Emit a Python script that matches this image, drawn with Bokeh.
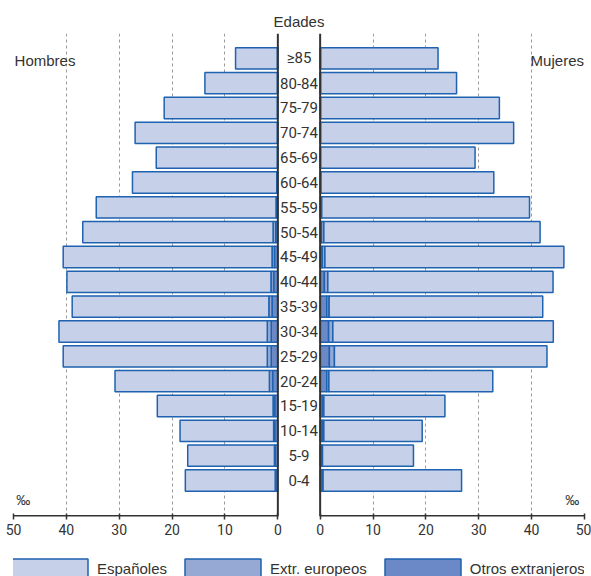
import numpy as np
from bokeh.plotting import figure
from bokeh.layouts import column
from bokeh.models import Range1d, FixedTicker, Span, Legend, LegendItem
from bokeh.embed import file_html
from bokeh.resources import INLINE
from bokeh.core.properties import value

# ---- data (per mil), bottom (0-4) to top (>=85) ----
edades = ["0-4", "5-9", "10-14", "15-19", "20-24", "25-29", "30-34", "35-39",
          "40-44", "45-49", "50-54", "55-59", "60-64", "65-69", "70-74",
          "75-79", "80-84", "\u226585"]

hombres_espanoles = [17.0, 16.4, 17.7, 21.9, 29.2, 38.6, 39.4, 37.2, 38.6,
                     39.5, 36.0, 34.0, 27.3, 22.9, 26.9, 21.4, 13.7, 7.9]
hombres_europeos = [0.1, 0.15, 0.2, 0.3, 0.6, 0.75, 0.75, 0.6, 0.5,
                    0.45, 0.5, 0.2, 0.1, 0.05, 0.05, 0.05, 0.05, 0.05]
hombres_otros = [0.4, 0.5, 0.6, 0.6, 1.0, 1.25, 1.25, 1.1, 0.8,
                 0.65, 0.4, 0.15, 0.1, 0.05, 0.05, 0.05, 0.05, 0.05]

mujeres_espanoles = [26.2, 17.2, 18.6, 22.9, 31.0, 40.2, 41.7, 40.4, 42.6,
                     45.2, 40.9, 39.3, 32.7, 29.2, 36.5, 33.8, 25.7, 22.2]
mujeres_europeos = [0.15, 0.15, 0.3, 0.25, 0.4, 0.95, 0.8, 0.45, 0.65,
                    0.5, 0.45, 0.1, 0.05, 0.05, 0.05, 0.05, 0.05, 0.05]
mujeres_otros = [0.4, 0.3, 0.4, 0.45, 1.25, 1.75, 1.6, 1.25, 0.8,
                 0.4, 0.25, 0.2, 0.1, 0.05, 0.05, 0.05, 0.05, 0.05]

ticks = [0, 10, 20, 30, 40, 50]
series_labels = ["Espa\u00f1oles", "Extr. europeos", "Otros extranjeros"]

# ---- style ----
C_ESP = "#c6d0e8"
C_EUR = "#95a9d4"
C_OTR = "#6a89c6"
C_LINE = "#1e62b0"
C_TEXT = "#333333"
NARROW = "Roboto"
SANS = "Liberation Sans"
COLORS = [C_OTR, C_EUR, C_ESP]

HALF = 4          # half of the central gap (data units)
XMAX = 50 + HALF
n = len(edades)
idx = np.arange(n)

p = figure(width=591, height=548,
           x_range=Range1d(-XMAX, XMAX), y_range=Range1d(-1.45, 18.0),
           output_backend="svg", toolbar_location=None,
           min_border_left=13, min_border_right=7, min_border_top=33,
           min_border_bottom=32)
p.outline_line_color = None
p.yaxis.visible = False
p.ygrid.visible = False

p.title.text = "Edades"
p.title.align = "center"
p.title.text_font = SANS
p.title.text_font_size = "15px"
p.title.text_font_style = "normal"
p.title.text_color = C_TEXT
p.title.standoff = 8

grid_pos = [-(t + HALF) for t in ticks[1:]] + [t + HALF for t in ticks[1:]]
p.xgrid.ticker = FixedTicker(ticks=grid_pos)
p.xgrid.grid_line_color = "#9a9a9a"
p.xgrid.grid_line_dash = "3 3"
p.xgrid.grid_line_width = 1

tick_pos = [-(t + HALF) for t in ticks] + [t + HALF for t in ticks]
overrides = {}
for t in ticks:
    overrides[-(t + HALF)] = str(t)
    overrides[t + HALF] = str(t)
ax = p.xaxis[0]
ax.ticker = FixedTicker(ticks=tick_pos)
ax.major_label_overrides = overrides
ax.axis_line_color = None
ax.major_tick_line_color = C_TEXT
ax.major_tick_line_width = 1.5
ax.major_tick_in = 3
ax.major_tick_out = 3
ax.minor_tick_line_color = None
ax.major_label_text_font = NARROW
ax.major_label_text_font_size = "14px"
ax.major_label_text_color = C_TEXT
ax.major_label_standoff = 4
ax.axis_label_standoff = 0


def stacked(series, sign):
    """left/right edges of each stacked segment, centre outwards."""
    start = np.zeros(n)
    out = []
    for vals in series:
        end = start + np.array(vals)
        if sign < 0:
            out.append((-(end + HALF), -(start + HALF)))
        else:
            out.append((start + HALF, end + HALF))
        start = end
    return out


h_edges = stacked([hombres_otros, hombres_europeos, hombres_espanoles], -1)
m_edges = stacked([mujeres_otros, mujeres_europeos, mujeres_espanoles], 1)

for edges in (h_edges, m_edges):
    for (left, right), color in zip(edges, COLORS):
        p.hbar(y=idx, left=left, right=right, height=0.86,
               fill_color=color, line_color=C_LINE, line_width=1.5)

# axis line segments (one per half)
y0 = p.y_range.start
p.segment(x0=[-XMAX, HALF], x1=[-HALF, XMAX], y0=[y0, y0], y1=[y0, y0],
          line_color=C_TEXT, line_width=3)

for loc in (-HALF, HALF):
    p.add_layout(Span(location=loc, dimension="height", line_color=C_TEXT,
                      line_width=2))

# age labels
p.text(x=np.zeros(n), y=idx, text=edades, text_align="center",
       text_baseline="middle", text_font=value(NARROW),
       text_font_size="15px", text_color=C_TEXT)

p.text(x=[-XMAX + 0.2], y=[16.9], text=["Hombres"], text_align="left",
       text_baseline="middle", text_font=value(SANS), text_font_size="15px",
       text_color=C_TEXT)
p.text(x=[XMAX - 0.1], y=[16.9], text=["Mujeres"], text_align="right",
       text_baseline="middle", text_font=value(SANS), text_font_size="15px",
       text_color=C_TEXT)
p.text(x=[-XMAX + 0.5, XMAX - 1.0], y=[-0.8, -0.8], text=["\u2030", "\u2030"],
       text_align=["left", "right"], text_baseline="middle",
       text_font=value(SANS), text_font_size="14px", text_color=C_TEXT)

# ---- legend strip (its renderers hold the same bars, outside its view) ----
lg = figure(width=591, height=33, x_range=Range1d(100, 101),
            y_range=Range1d(100, 101),
            output_backend="svg", toolbar_location=None,
            x_axis_type=None, y_axis_type=None,
            min_border_left=0, min_border_right=0, min_border_top=0,
            min_border_bottom=0)
lg.outline_line_color = None
lg.xgrid.visible = False
lg.ygrid.visible = False
items = []
for lab, (left, right), color in zip(series_labels, h_edges[::-1],
                                     COLORS[::-1]):
    r = lg.hbar(y=idx, left=left, right=right, height=0.86,
                fill_color=color, line_color=C_LINE, line_width=1.5)
    items.append(LegendItem(label=lab, renderers=[r]))
legend = Legend(items=items, orientation="horizontal", location=(-11, 0),
                glyph_width=95, glyph_height=25, label_standoff=0,
                spacing=8, padding=0, margin=0,
                border_line_color=None, background_fill_alpha=0,
                label_text_font=SANS, label_text_font_size="15px",
                label_text_color=C_TEXT)
lg.add_layout(legend)

layout = column(p, lg, spacing=0)
open("out.html", "w").write(file_html(layout, INLINE))
